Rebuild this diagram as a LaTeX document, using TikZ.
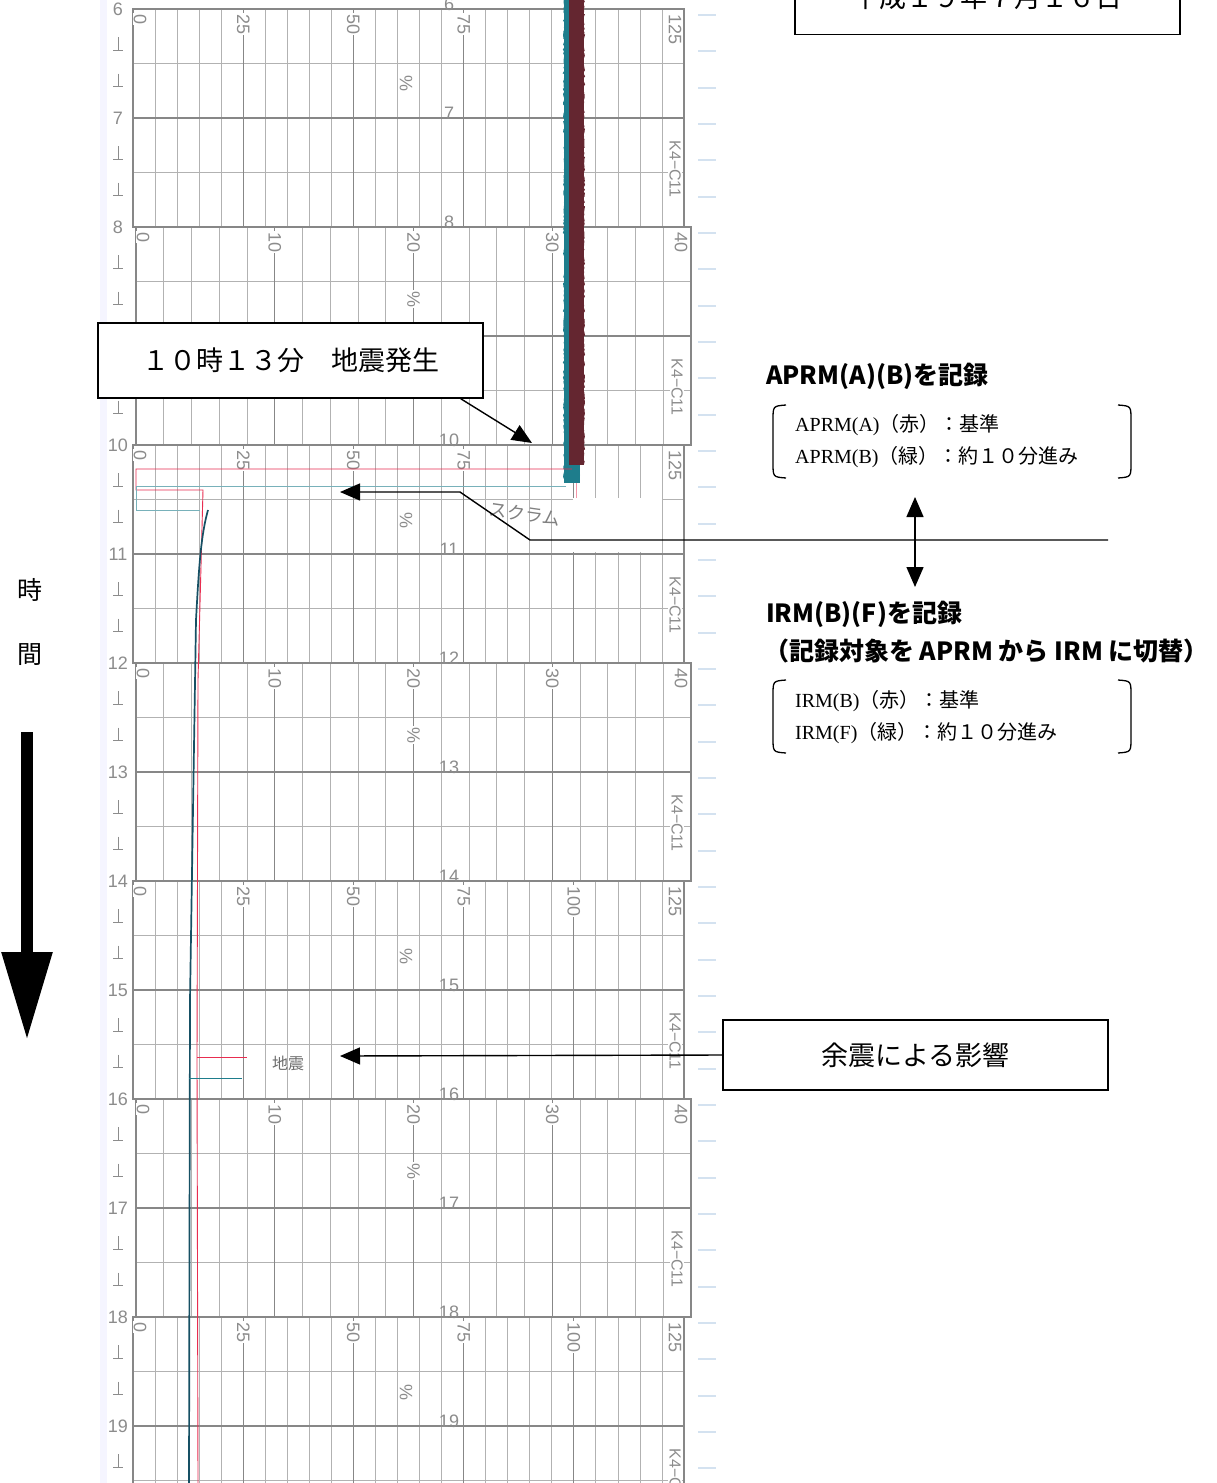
\documentclass[tikz,border=0pt]{standalone}
\usepackage{fontspec}
\setmainfont{Liberation Sans}
\newfontfamily\jp{Noto Sans CJK JP}
\newfontfamily\lserif{Liberation Serif}
\usetikzlibrary{arrows.meta,decorations.pathmorphing}
\definecolor{gridc}{RGB}{178,178,178}
\definecolor{majc}{RGB}{135,135,135}
\definecolor{labc}{RGB}{140,140,140}
\definecolor{redpen}{RGB}{232,45,80}
\definecolor{tealpen}{RGB}{30,125,140}
\definecolor{darkteal}{RGB}{22,80,100}
\definecolor{maroonpen}{RGB}{100,38,48}
\definecolor{bluemark}{RGB}{212,226,240}
\begin{document}
\begin{tikzpicture}[x=1pt,y=-1pt,
  minor/.style={draw=gridc,line width=0.7pt},
  major/.style={draw=majc,line width=1.1pt},
  glab/.style={text=labc,font=\fontsize{18}{18}\selectfont,inner sep=1pt},
  rlab/.style={glab,rotate=-90,anchor=west,fill=white},
  box/.style={draw=black,fill=white,line width=1.4pt,font=\jp\fontsize{27}{27}\selectfont},
  arr/.style={line width=1.4pt,-{Triangle[length=20pt,width=17pt]}},
  dbl/.style={line width=1.4pt,{Triangle[length=20pt,width=17pt]}-{Triangle[length=20pt,width=17pt]}},
  bar/.style={line width=1.3pt},
  head/.style={anchor=west,inner sep=0pt,font=\jp\bfseries\fontsize{25}{25}\selectfont},
  note/.style={anchor=west,inner sep=0pt,align=left,font=\jp\fontsize{20}{32}\selectfont}
]
\useasboundingbox (0,0) rectangle (1216,1483);
\clip (0,0) rectangle (1216,1483);
\fill[white] (0,0) rectangle (1216,1483);
% paper edge
\fill[blue!4] (100,0) rectangle (107,1483);

% ---- chart sections ----
\foreach \k in {0,...,6}{
  \pgfmathsetmacro\yt{9+218*\k}
  \pgfmathsetmacro\yb{\yt+218}
  \ifodd\k\relax
    % 0-40 section
    \foreach \i in {1,...,19}{\draw[minor] ({136+27.75*\i},\yt) -- ({136+27.75*\i},\yb);}
    \foreach \f in {54.5,163.5}{\draw[minor] (136,{\yt+\f}) -- (691,{\yt+\f});}
    \draw[major] (136,{\yt+109}) -- (691,{\yt+109});
    \draw[major] (136,\yt) rectangle (691,\yb);
    \foreach \i/\l in {5/10,10/20,15/30}{
      \draw[major] ({136+27.75*\i},\yt) -- ({136+27.75*\i},\yb);
      \node[rlab] at ({136+27.75*\i},{\yt+4}) {\l};}
    \node[rlab] at (143,{\yt+4}) {0};
    \node[rlab] at (681,{\yt+4}) {40};
    \node[glab,rotate=-90,fill=white] at (413.5,{\yt+72}) {\%};
    \node[glab,rotate=-90,fill=white,font=\fontsize{16}{16}\selectfont] at (677,{\yt+160}) {K4−C11};
  \else
    % 0-125 section
    \foreach \i in {1,...,24}{\draw[minor] ({133+22.04*\i},\yt) -- ({133+22.04*\i},\yb);}
    \foreach \f in {54.5,163.5}{\draw[minor] (133,{\yt+\f}) -- (684,{\yt+\f});}
    \draw[major] (133,{\yt+109}) -- (684,{\yt+109});
    \draw[major] (133,\yt) rectangle (684,\yb);
    \foreach \i/\l in {5/25,10/50,15/75,20/100}{
      \draw[major] ({133+22.04*\i},\yt) -- ({133+22.04*\i},\yb);
      \node[rlab] at ({133+22.04*\i},{\yt+4}) {\l};}
    \node[rlab] at (140,{\yt+4}) {0};
    \node[rlab] at (675,{\yt+4}) {125};
    \node[glab,rotate=-90] at (406,{\yt+75}) {\%};
    \node[glab,rotate=-90,fill=white,font=\fontsize{16}{16}\selectfont] at (675,{\yt+160}) {K4−C11};
  \fi
}

% hour labels left margin and inside
\foreach \h in {6,...,19}{
  \pgfmathsetmacro\hy{9+109*(\h-6)}
  \node[glab] at (118,\hy) {\h};
  \node[glab] at (449,{\hy-5}) {\h};
}
% 20-minute ticks in the left margin
\foreach \j in {0,...,40}{
  \pgfmathsetmacro\ty{9+36.333*\j}
  \pgfmathtruncatemacro\jm{mod(\j,3)}
  \ifnum\jm>0
    \draw[labc,line width=0.8pt] (118,{\ty-8}) -- (118,{\ty+5});
    \draw[labc,line width=0.8pt] (113,{\ty+5}) -- (123,{\ty+5});
  \fi
}
% right margin marks
\foreach \j in {0,...,40}{
  \draw[bluemark,line width=2pt] (698,{15+36.333*\j}) -- (716,{15+36.333*\j});
}

% ---- pen traces ----
\fill[tealpen] (564,0) rectangle (580,483);
\fill[maroonpen] (569,0) rectangle (584,465);
\draw[tealpen,line width=2pt,decorate,decoration={random steps,segment length=2pt,amplitude=1pt}] (565,0) -- (565,482);
\draw[maroonpen,line width=2pt,decorate,decoration={random steps,segment length=2pt,amplitude=1pt}] (583,0) -- (583,464);
\draw[redpen!50,line width=1pt] (576,483) -- (576,498);
% red pen
\draw[redpen,line width=0.9pt] (572,469) -- (136,469) -- (136,490) -- (203,490) -- (198,680) -- (197,1060) -- (198,1483);
\draw[redpen,line width=0.9pt] (197,1057) -- (247,1057);
% green pen
\draw[tealpen!60,line width=0.7pt] (566,486) -- (136,486) -- (136,510) -- (200,510);
\draw[darkteal,line width=1.7pt] (208,510) .. controls (201,535) and (199,565) .. (196,620) -- (190,1000) -- (189,1483);
\draw[tealpen,line width=0.9pt] (189,1078) -- (242,1078);
% handwriting
\node[text=gray,font=\jp\fontsize{18}{18}\selectfont,rotate=-8,inner sep=0pt] (hw1) at (525,514) {スクラム};
\node[text=gray!85!black,font=\jp\fontsize{16}{16}\selectfont] (hw2) at (288,1063) {地震};
% masked area
\fill[white] (573,498) rectangle (662,552);

% ---- annotations ----
\node[box,minimum width=385pt,minimum height=74pt,anchor=south] (date) at (987.5,35) {平成１９年７月１６日};
\node[box,minimum width=385pt,minimum height=75pt] (quake) at (290.5,360.5) {１０時１３分　地震発生};
\coordinate (qtip) at (532,443);
\draw[arr] ([xshift=-23pt]quake.south east) -- (qtip);

\node[head] (hA) at (766,376) {APRM(A)(B)を記録};
\node[note] (nA) at (795,441) {{\lserif APRM(A)}（赤）：基準\\{\lserif APRM(B)}（緑）：約１０分進み};
\draw[bar] (786,405) .. controls (773,406) .. (773,420) -- (773,463) .. controls (773,477) .. (786,478);
\draw[bar] (1118,405) .. controls (1131,406) .. (1131,420) -- (1131,463) .. controls (1131,477) .. (1118,478);

\node[head] (hB) at (766,614) {IRM(B)(F)を記録};
\node[head] (hC) at (764,651) {（記録対象を APRM から IRM に切替）};
\node[note] (nB) at (795,717) {{\lserif IRM(B)}（赤）：基準\\{\lserif IRM(F)}（緑）：約１０分進み};
\draw[bar] (786,680) .. controls (773,681) .. (773,695) -- (773,738) .. controls (773,752) .. (786,753);
\draw[bar] (1118,680) .. controls (1131,681) .. (1131,695) -- (1131,738) .. controls (1131,752) .. (1118,753);

\coordinate (dtop) at (915,497);
\coordinate (dbot) at (915,587);
\draw[dbl] (dtop) -- (dbot);

\coordinate (lineR) at (1108,540);
\coordinate (scramtip) at (340,492);
\draw[arr] (lineR) -- (530,540) -- (460,492) -- (scramtip);

\node[box,minimum width=385pt,minimum height=70pt] (after) at (915.5,1055) {余震による影響};
\coordinate (atip) at (340,1056);
\draw[arr] (after.west) -- (atip);

% time axis
\node[font=\jp\fontsize{25}{25}\selectfont] (ji) at (30,590) {時};
\node[font=\jp\fontsize{25}{25}\selectfont] (kan) at (30,655) {間};
\draw[line width=12pt,-{Triangle[length=88pt,width=48pt]}] (27,732) -- (27,1040);
\end{tikzpicture}
\end{document}
